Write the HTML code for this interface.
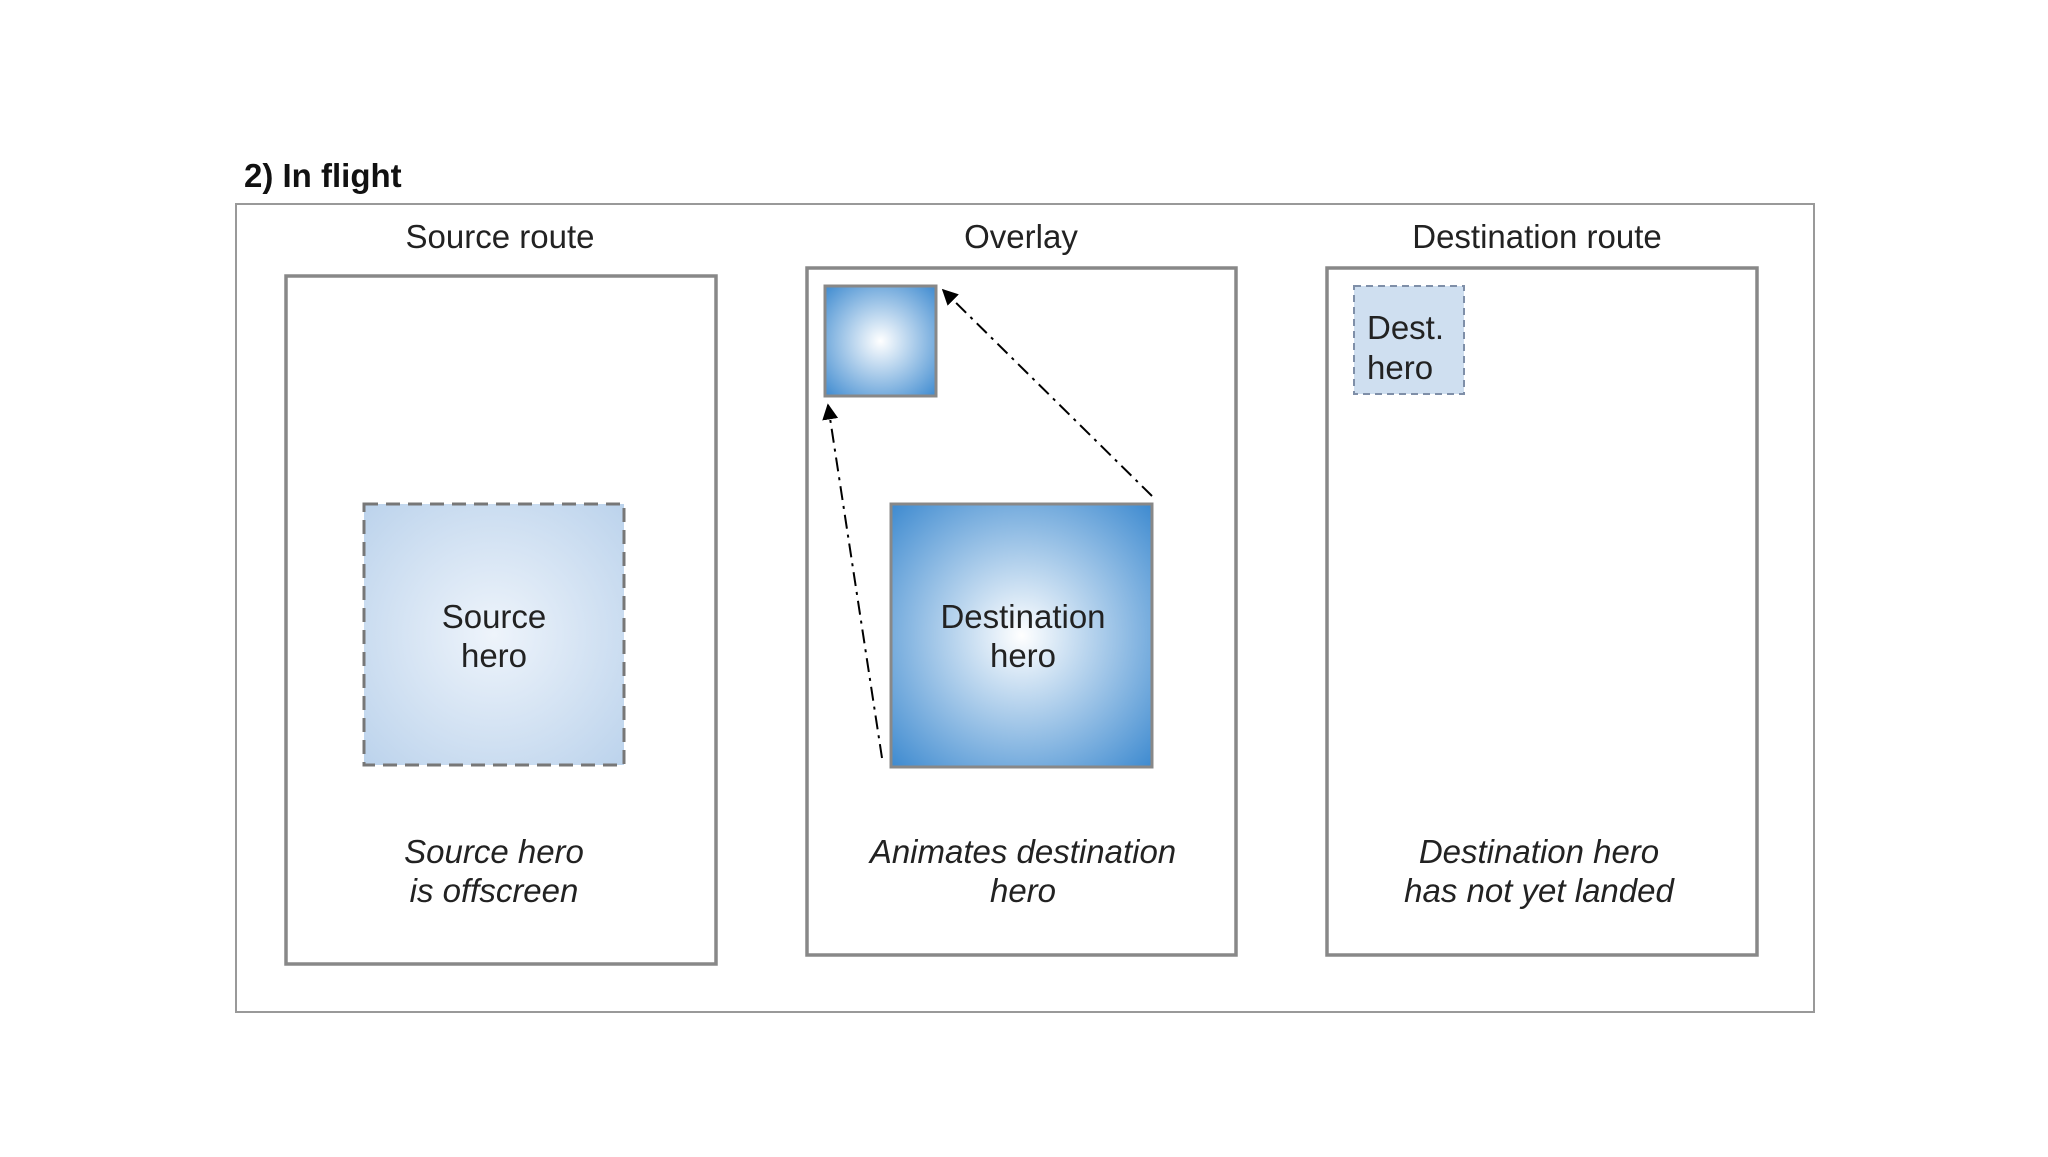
<!DOCTYPE html>
<html><head><meta charset="utf-8"><style>
body{margin:0;width:2048px;height:1152px;background:#fff;overflow:hidden;font-family:"Liberation Sans",sans-serif;}
</style></head><body>
<svg width="2048" height="1152" xmlns="http://www.w3.org/2000/svg" font-family="Liberation Sans, sans-serif">
<defs>
<radialGradient id="g1" cx="50%" cy="50%" r="70%"><stop offset="0" stop-color="#ffffff"/><stop offset="1" stop-color="#3f8bd0"/></radialGradient>
<radialGradient id="g2" cx="50%" cy="50%" r="70%"><stop offset="0" stop-color="#eef4fb"/><stop offset="1" stop-color="#bcd3ec"/></radialGradient>
<marker id="ah" viewBox="0 0 10 10" refX="9" refY="5" markerWidth="8" markerHeight="8" orient="auto"><path d="M0,0L10,5L0,10z" fill="#000"/></marker>
</defs>
<text x="244" y="187" font-size="33" font-weight="bold" fill="#111">2) In flight</text>
<rect x="236" y="204" width="1578" height="808" fill="#fff" stroke="#999" stroke-width="2"/>
<g font-size="33" fill="#222" text-anchor="middle">
<text x="500" y="248">Source route</text>
<text x="1021" y="248">Overlay</text>
<text x="1537" y="248">Destination route</text>
</g>
<g fill="#fff" stroke="#888" stroke-width="3.5">
<rect x="286" y="276" width="430" height="688"/>
<rect x="807" y="268" width="429" height="687"/>
<rect x="1327" y="268" width="430" height="687"/>
</g>
<rect x="364" y="504" width="260" height="261" fill="url(#g2)" stroke="#777" stroke-width="3" stroke-dasharray="14,8"/>
<rect x="825" y="286" width="111" height="110" fill="url(#g1)" stroke="#888" stroke-width="3"/>
<rect x="891" y="504" width="261" height="263" fill="url(#g1)" stroke="#888" stroke-width="3"/>
<rect x="1354" y="286" width="110" height="108" fill="#cfdff0" stroke="#7f8fa8" stroke-width="2" stroke-dasharray="7,5"/>
<g stroke="#000" stroke-width="2" fill="none" stroke-dasharray="14,6,3,6" marker-end="url(#ah)">
<line x1="882" y1="758" x2="828" y2="405"/>
<line x1="1152" y1="496" x2="943" y2="290"/>
</g>
<g font-size="33" fill="#222" text-anchor="middle">
<text x="494" y="628">Source</text><text x="494" y="667">hero</text>
<text x="1023" y="628">Destination</text><text x="1023" y="667">hero</text>
</g>
<g font-size="33" fill="#222"><text x="1367" y="339">Dest.</text><text x="1367" y="379">hero</text></g>
<g font-size="33" fill="#222" text-anchor="middle" font-style="italic">
<text x="494" y="863">Source hero</text><text x="494" y="902">is offscreen</text>
<text x="1023" y="863">Animates destination</text><text x="1023" y="902">hero</text>
<text x="1539" y="863">Destination hero</text><text x="1539" y="902">has not yet landed</text>
</g>
</svg>
</body></html>
